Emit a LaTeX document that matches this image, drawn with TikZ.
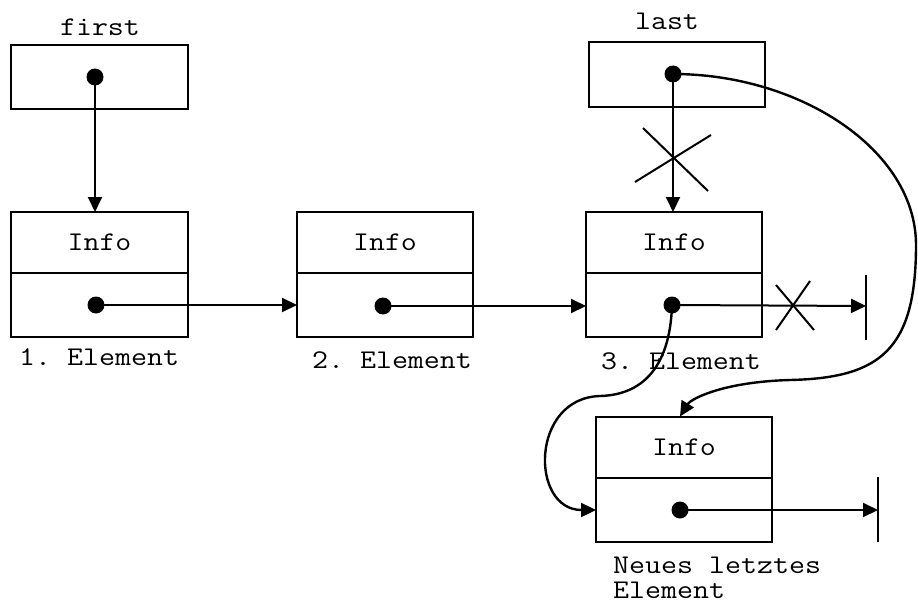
\documentclass[tikz,border=0pt]{standalone}
\usepackage{fontspec}
\setmonofont{Latin Modern Mono}[FakeStretch=1.15]
\usetikzlibrary{arrows.meta}
\begin{document}
\begin{tikzpicture}[x=1pt,y=-1pt,
  lw/.style={line width=2pt},
  cell/.style={draw, lw, minimum width=176pt, inner sep=0pt, outer sep=0pt, font=\fontsize{27}{30}\selectfont\ttfamily},
  infocell/.style={cell, minimum height=61pt},
  ptrcell/.style={cell, minimum height=64pt},
  dot/.style={circle, fill=black, inner sep=0pt, minimum size=17pt},
  lbl/.style={inner sep=0pt, font=\fontsize{27}{30}\selectfont\ttfamily},
  arr/.style={lw, -{Triangle[length=15pt,width=14pt]}},
  carr/.style={line width=2.4pt, -{Triangle[length=15pt,width=14pt]}},
  cross/.style={line width=2pt}]
\useasboundingbox (0,0) rectangle (918,607);
% pointer boxes
\node[ptrcell, minimum width=177pt] (firstbox) at (99.5,77) {};
\node[lbl] (firstlbl) at (100,27) {first};
\node[dot] (d0) at (95,77) {};
\node[ptrcell, minimum height=65pt] (lastbox) at (677,74.5) {};
\node[lbl] (lastlbl) at (667,21) {last};
\node[dot] (dl) at (673,74) {};
% element 1
\node[infocell, minimum width=177pt] (e1i) at (99.5,242.5) {Info};
\node[ptrcell, minimum width=177pt] (e1p) at (99.5,305) {};
\node[dot] (d1) at (96,305) {};
\node[lbl, anchor=west] (e1l) at (19,357) {1. Element};
% element 2
\node[infocell] (e2i) at (385,242.5) {Info};
\node[ptrcell] (e2p) at (385,305) {};
\node[dot] (d2) at (383,306) {};
\node[lbl] (e2l) at (392,360) {2. Element};
% element 3
\node[infocell] (e3i) at (674,242.5) {Info};
\node[ptrcell] (e3p) at (674,305) {};
\node[dot] (d3) at (672,305) {};
\node[lbl] (e3l) at (681,361) {3. Element};
% new element
\node[infocell] (ni) at (684,447) {Info};
\node[ptrcell] (np) at (684,510) {};
\node[dot] (dn) at (680,510) {};
\node[lbl, anchor=north west, align=left, font=\fontsize{27}{25}\selectfont\ttfamily] (nl) at (613,557) {Neues letztes\\Element};
% null terminators
\coordinate (t3) at (866,306);
\coordinate (tn) at (878,510);
\draw[lw] (866,275) -- (866,340);
\draw[lw] (878,477) -- (878,542);
% straight connectors
\draw[arr] (d0.center) -- (d0.center |- e1i.north);
\draw[arr] (d1.center) -- (d1.center -| e2p.west);
\draw[arr] (d2.center) -- (d2.center -| e3p.west);
\draw[arr] (dl.center) -- (dl.center |- e3i.north);
\draw[arr] (d3.center) -- (t3);
\draw[arr] (dn.center) -- (tn);
% crosses
\draw[cross] (635,182) -- (711,135);
\draw[cross] (643,128) -- (708,191);
\draw[cross] (776,285) -- (814,330);
\draw[cross] (810,281) -- (776,330);
% curved connectors
\draw[carr] (dl.center) .. controls (800,74) and (916,150) .. (916,245)
  .. controls (916,350) and (880,378) .. (790,380)
  .. controls (720,382) and (690,400) .. (ni.north -| dn);
\draw[carr] (d3.center) .. controls (670,370) and (640,395) .. (600,396)
  .. controls (530,398) and (530,510) .. (np.west);
\end{tikzpicture}
\end{document}
